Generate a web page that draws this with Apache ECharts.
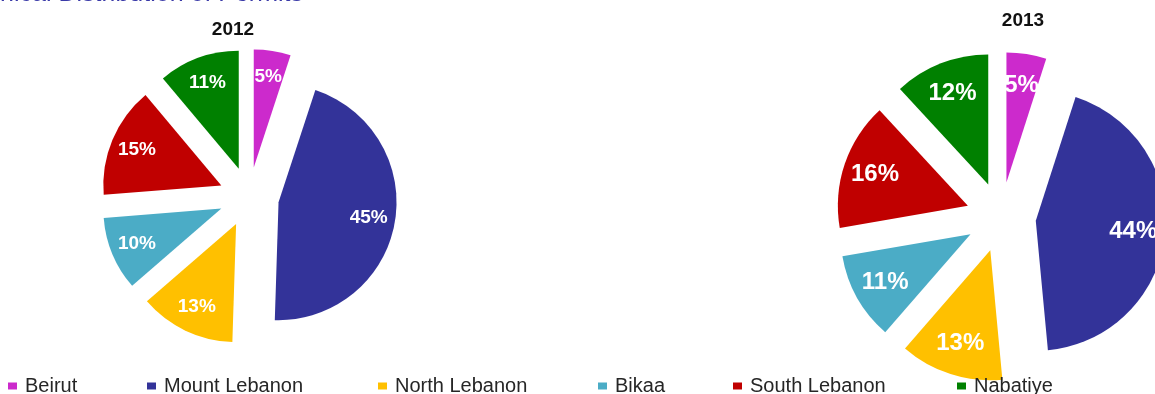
<!DOCTYPE html>
<html>
<head>
<meta charset="utf-8">
<script src="https://cdn.jsdelivr.net/npm/echarts@6/dist/echarts.min.js"></script>
<style>
html,body{margin:0;padding:0;background:#fff;}
#chart{width:1155px;height:394px;}
</style>
</head>
<body>
<div id="chart"></div>
<script>
var categories = ['Beirut', 'Mount Lebanon', 'North Lebanon', 'Bikaa', 'South Lebanon', 'Nabatiye'];
var values2012 = [5, 45, 13, 10, 15, 11];
var values2013 = [5, 44, 13, 11, 16, 12];
var colors = ['#cc2acc', '#333399', '#ffc000', '#4bacc6', '#c00000', '#008000'];
var pieTitles = ['2012', '2013'];
var mainTitle = 'Geographical Distribution of Permits';

var FONT = "'Liberation Sans', Arial, sans-serif";

function sliceData(vals, visible) {
  return categories.map(function (c, i) {
    return {
      name: c,
      value: vals[i],
      selected: true,
      itemStyle: { color: visible ? colors[i] : 'rgba(0,0,0,0)' }
    };
  });
}

function pieSeries(vals, center, r, offset, fontSize, innerRatio) {
  var common = {
    type: 'pie',
    center: center,
    startAngle: 90,
    clockwise: true,
    selectedMode: 'multiple',
    selectedOffset: offset,
    avoidLabelOverlap: false,
    animation: false,
    emphasis: { disabled: true, scale: false },
    select: { itemStyle: { borderWidth: 0 } },
    labelLine: { show: false }
  };
  var shapes = Object.assign({}, common, {
    radius: [0, r],
    data: sliceData(vals, true),
    label: { show: false }
  });
  var labels = Object.assign({}, common, {
    radius: [Math.round(r * innerRatio), r],
    silent: true,
    data: sliceData(vals, false),
    label: {
      show: true,
      position: 'inside',
      formatter: '{c}%',
      color: '#ffffff',
      fontWeight: 'bold',
      fontSize: fontSize,
      fontFamily: FONT
    },
    select: { label: { color: '#ffffff' }, itemStyle: { color: 'rgba(0,0,0,0)' } }
  });
  return [shapes, labels];
}

var legendLefts = [8, 147, 378, 598, 733, 957];
var legends = categories.map(function (c, i) {
  return {
    data: [c],
    left: legendLefts[i],
    top: 376,
    padding: 0,
    icon: 'rect',
    itemWidth: 9,
    itemHeight: 7,
    selectedMode: false,
    textStyle: { fontSize: 20, color: '#262626', fontFamily: FONT, padding: [0, 0, 0, 3] }
  };
});

var chart = echarts.init(document.getElementById('chart'), null, { renderer: 'canvas' });
chart.setOption({
  backgroundColor: '#ffffff',
  animation: false,
  legend: legends,
  graphic: [
    { type: 'text', x: 303, y: -6, style: { text: mainTitle, align: 'right', verticalAlign: 'middle', font: '25px ' + FONT, fill: '#3a3aa8' } },
    { type: 'text', x: 233, y: 30, style: { text: pieTitles[0], align: 'center', verticalAlign: 'middle', font: 'bold 19px ' + FONT, fill: '#111111' } },
    { type: 'text', x: 1023, y: 21, style: { text: pieTitles[1], align: 'center', verticalAlign: 'middle', font: 'bold 19px ' + FONT, fill: '#111111' } }
  ],
  series: [].concat(
    pieSeries(values2012, [249, 197], 118, 30, 19, 0.5),
    pieSeries(values2013, [1001, 217], 130, 35, 24, 0.46)
  )
});
</script>
</body>
</html>
